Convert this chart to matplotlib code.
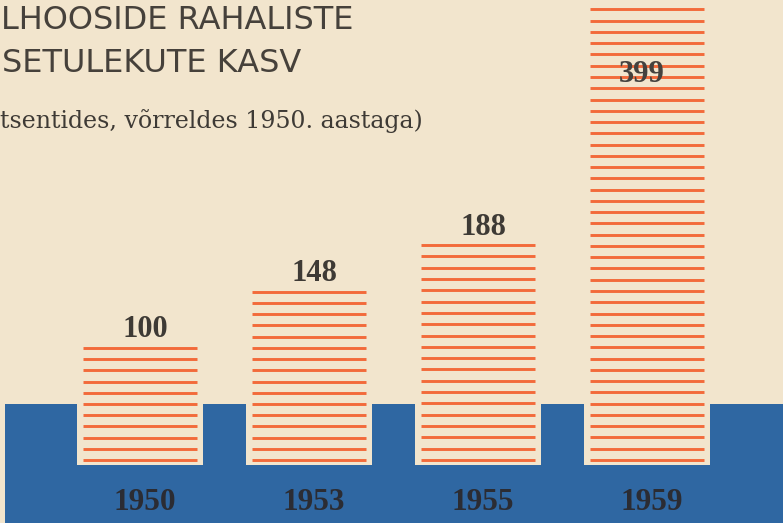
import numpy as np
import matplotlib
matplotlib.use("Agg")
import matplotlib.pyplot as plt

# ---- data ----
years = ["1950", "1953", "1955", "1959"]
values = [100, 148, 188, 399]
title_lines = ["LHOOSIDE RAHALISTE", "SETULEKUTE KASV"]
subtitle = "tsentides, võrreldes 1950. aastaga)"

# ---- style ----
CREAM = "#f2e5cd"
BLUE = "#2f67a2"
ORANGE = "#f36a3a"
TEXT = "#3e3a35"

W, H = 783, 523
fig = plt.figure(figsize=(W / 100, H / 100), dpi=100, facecolor=CREAM)
ax = fig.add_axes([0, 0, 1, 1])
ax.set_facecolor(CREAM)
ax.axis("off")

px_per_unit = 1.17
base_px = 465.0
ax.set_ylim(-(H - base_px) / px_per_unit, base_px / px_per_unit)
x0_px, dx_px = 140.0, 169.0
ax.set_xlim(-x0_px / dx_px, (W - x0_px) / dx_px)

x = np.arange(len(years))

# blue ground band with notches
band_top = 52
ax.axhspan(ax.get_ylim()[0], band_top, xmin=5 / W, xmax=1, color=BLUE, zorder=1, lw=0)
ax.bar(x, band_top, width=0.75, bottom=0, color=CREAM, zorder=2, lw=0)

# striped bars
step = 11.3 / px_per_unit
bar_w = 0.675
low = 4.3
for xi, v in zip(x, values):
    n = int(round((v - low) / step)) + 1
    ys = np.linspace(low, v, n)
    ax.hlines(ys, xi - bar_w / 2, xi + bar_w / 2, colors=ORANGE, lw=2.1, zorder=3)

# value labels
ytop = ax.get_ylim()[1]
for xi, v in zip(x, values):
    inside = v + 30 >= ytop
    ax.text(xi + (-0.03 if inside else 0.03), (v - 72) if inside else (v + 9), str(v),
            ha="center", va="baseline", fontsize=22, weight="bold",
            family="Liberation Serif", color="#45423e" if inside else TEXT, zorder=4)

# year labels
for xi, yr in zip(x, years):
    ax.text(xi + 0.03, -32, yr, ha="center", va="center", fontsize=22.5, weight="bold",
            family="Liberation Serif", color="#2b2c33", zorder=4)

# titles
fig.text(1 / W, 1 - 29 / H, title_lines[0], ha="left", va="baseline",
         fontsize=23, family="DejaVu Sans", color="#46413b")
fig.text(2 / W, 1 - 72 / H, title_lines[1], ha="left", va="baseline",
         fontsize=23, family="DejaVu Sans", color="#46413b")
fig.text(0, 1 - 128 / H, subtitle, ha="left", va="baseline",
         fontsize=17, family="DejaVu Serif", color=TEXT)

fig.savefig("out.png", dpi=100, facecolor=CREAM)
